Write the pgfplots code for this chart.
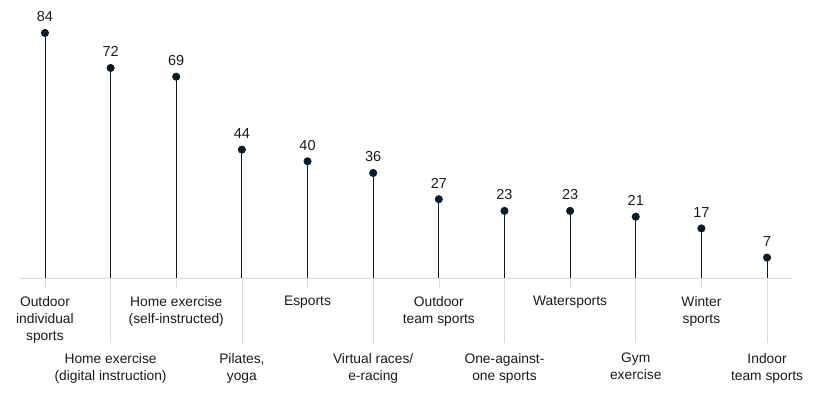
\documentclass[border=0pt]{standalone}
\usepackage{pgfplots}
\pgfplotsset{compat=1.18}
\usepackage{fontspec}
\setmainfont{Liberation Sans}
\definecolor{navy}{HTML}{051C2C}
\definecolor{gridgrey}{HTML}{D9D9D9}
\definecolor{txt}{HTML}{1A1A1A}
\begin{document}
\begin{tikzpicture}[x=1pt,y=1pt]
\useasboundingbox (0,0) rectangle (817,395);
\begin{axis}[
  at={(20pt,117pt)}, anchor=south west,
  scale only axis, width=772pt, height=278pt,
  xmin=-0.38, xmax=11.38, ymin=0, ymax=95.3,
  axis x line*=bottom, axis y line=none,
  x axis line style={gridgrey, line width=0.8pt, -},
  xtick={0,2,4,6,8,10}, xticklabels={},
  extra x ticks={1,3,5,7,9,11}, extra x tick labels={},
  tick align=outside, major tick length=10pt,
  extra x tick style={major tick length=65pt},
  tick style={gridgrey, line width=0.6pt},
  ytick=\empty,
  clip=false,
  /pgf/number format/assume math mode=true,
  nodes near coords,
  every node near coord/.append style={anchor=base, yshift=11pt, font=\fontsize{14.5}{16}\selectfont, text=txt},
]
\addplot[ycomb, navy, line width=0.8pt, mark=*, mark size=3.6pt, mark options={fill=navy}]
  coordinates {(0,84) (1,72) (2,69) (3,44) (4,40) (5,36) (6,27) (7,23) (8,23) (9,21) (10,17) (11,7)};
\tikzset{lab/.style={anchor=north, align=center, font=\fontsize{13.8}{17}\selectfont, text=txt, inner sep=0pt}}
\node[lab, yshift=-18pt] at (axis cs:0,0) {Outdoor\\individual\\sports};
\node[lab, yshift=-75pt] at (axis cs:1,0) {Home exercise\\(digital instruction)};
\node[lab, yshift=-18pt] at (axis cs:2,0) {Home exercise\\(self-instructed)};
\node[lab, yshift=-75pt] at (axis cs:3,0) {Pilates,\\yoga};
\node[lab, yshift=-18pt] at (axis cs:4,0) {Esports};
\node[lab, yshift=-75pt] at (axis cs:5,0) {Virtual races/\\e-racing};
\node[lab, yshift=-18pt] at (axis cs:6,0) {Outdoor\\team sports};
\node[lab, yshift=-75pt] at (axis cs:7,0) {One-against-\\one sports};
\node[lab, yshift=-18pt] at (axis cs:8,0) {Watersports};
\node[lab, yshift=-75pt] at (axis cs:9,0) {Gym\\exercise};
\node[lab, yshift=-18pt] at (axis cs:10,0) {Winter\\sports};
\node[lab, yshift=-75pt] at (axis cs:11,0) {Indoor\\team sports};
\end{axis}
\end{tikzpicture}
\end{document}
